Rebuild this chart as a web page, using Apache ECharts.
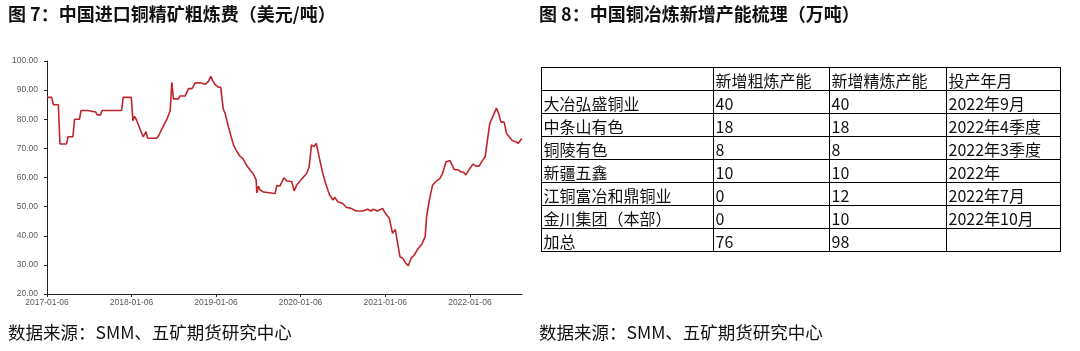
<!DOCTYPE html>
<html>
<head>
<meta charset="utf-8">
<script src="https://cdn.jsdelivr.net/npm/echarts@6/dist/echarts.min.js"></script>
<style>
html,body{margin:0;padding:0;background:#fff;}
#c{width:1080px;height:351px;}
</style>
</head>
<body>
<div id="c"></div>
<script>
// ---- Chart 7 data: China imported copper concentrate TC (USD/t) ----
const dates = [
 '2017-01-06','2017-01-26','2017-02-03','2017-02-24','2017-03-03','2017-03-31','2017-04-07','2017-04-28',
 '2017-05-05','2017-05-26','2017-06-02','2017-06-30','2017-07-07','2017-08-04','2017-08-11','2017-08-25',
 '2017-09-01','2017-11-24','2017-12-01','2018-01-05','2018-01-12','2018-01-19','2018-01-26','2018-02-02',
 '2018-02-25','2018-03-02','2018-03-10','2018-03-16','2018-04-26','2018-05-04','2018-05-11','2018-05-25',
 '2018-06-08','2018-06-22','2018-06-29','2018-07-06','2018-07-28','2018-08-03','2018-08-26','2018-09-09',
 '2018-09-24','2018-10-08','2018-10-29','2018-11-05','2018-11-20','2018-12-04','2018-12-14','2018-12-21',
 '2019-01-01','2019-01-16','2019-01-26','2019-02-06','2019-02-14','2019-02-28','2019-03-07','2019-03-22',
 '2019-04-02','2019-04-19','2019-05-02','2019-05-18','2019-06-02','2019-06-16','2019-06-28','2019-07-01',
 '2019-07-08','2019-07-15','2019-07-30','2019-08-06','2019-09-18','2019-09-25','2019-10-09','2019-10-26',
 '2019-11-07','2019-11-29','2019-12-09','2019-12-20','2020-01-10','2020-02-01','2020-02-12','2020-02-22',
 '2020-03-03','2020-03-14','2020-03-26','2020-04-09','2020-04-23','2020-05-10','2020-05-25','2020-06-01',
 '2020-06-15','2020-07-06','2020-07-21','2020-08-11','2020-09-02','2020-09-30','2020-10-21','2020-11-05',
 '2020-11-15','2020-12-03','2020-12-25','2021-01-06','2021-01-23','2021-02-06','2021-02-18','2021-02-28',
 '2021-03-10','2021-03-22','2021-04-05','2021-04-15','2021-04-27','2021-05-11','2021-05-25','2021-06-13',
 '2021-06-27','2021-07-03','2021-07-15','2021-07-29','2021-08-12','2021-08-30','2021-09-10','2021-09-25',
 '2021-10-12','2021-10-30','2021-11-18','2021-11-28','2021-12-08','2021-12-20','2022-01-03','2022-01-20',
 '2022-02-01','2022-02-15','2022-03-01','2022-03-13','2022-03-23','2022-04-02','2022-04-21','2022-05-01',
 '2022-05-12','2022-05-20','2022-06-03','2022-06-13','2022-06-24','2022-07-09','2022-07-23','2022-08-02',
 '2022-08-18'
];
const tc = [
 87.5,87.5,85,85,71.5,71.5,74,74,
 80,80,83,83,82.5,82.5,81.5,81.5,
 83,83,87.5,87.5,79.5,81,80,80,
 74,74,75.7,73.5,73.5,74.5,74.5,78,
 80,83,92.7,87,87,88,88,90.5,
 90.5,92.5,92.5,92,92,93,94.7,93.5,
 92,91,91,83.5,82,77.5,77,71.2,
 69.5,67.3,66.5,64.2,62.6,61.2,59.2,54.7,
 57,55.8,55,54.5,54.5,57.2,57.1,59.9,
 58.8,58.6,55.4,57.4,59.4,61.4,63.7,71.2,
 70.6,71.7,67.1,62,58,54,52.3,53.2,
 51.7,51.1,49.8,49.4,48.5,48.5,49.1,48.5,
 49.1,48.5,49.4,47.7,46,40.8,42.2,37.4,
 32.8,32.3,30.5,29.7,32.3,33.4,35.3,37.2,
 39.7,46.5,52.3,57.4,58.6,59.7,61.4,65.4,
 65.8,62.8,62.6,61.9,61.9,60.9,62.8,64.6,
 63.9,63.9,65.8,67.1,72.9,78.6,82,83.8,
 81.5,79,79,75.2,74,72.6,72.3,71.7,
 73.4
];
const xTickLabels = ['2017-01-06','2018-01-06','2019-01-06','2020-01-06','2021-01-06','2022-01-06'];
const xMin = '2017-01-06';
const xMax = '2022-08-19';

// ---- Chart 8 table data ----
const tableHeader = ['', '新增粗炼产能', '新增精炼产能', '投产年月'];
const companies = ['大冶弘盛铜业','中条山有色','铜陵有色','新疆五鑫','江铜富冶和鼎铜业','金川集团（本部）','加总'];
const crudeCap = ['40','18','8','10','0','0','76'];
const refinedCap = ['40','18','8','10','12','10','98'];
const startDates = ['2022年9月','2022年4季度','2022年3季度','2022年','2022年7月','2022年10月',''];

const title7 = '图 7：中国进口铜精矿粗炼费（美元/吨）';
const title8 = '图 8：中国铜冶炼新增产能梳理（万吨）';
const source = '数据来源：SMM、五矿期货研究中心';

// ---- build ----
const DAY = 86400000;
const toDay = s => { const p = s.split('-').map(Number); return Math.round(Date.UTC(p[0], p[1]-1, p[2]) / DAY); };
const pad = n => (n < 10 ? '0' : '') + n;
const fmtDay = v => { const d = new Date(Math.round(v) * DAY); return d.getUTCFullYear() + '-' + pad(d.getUTCMonth()+1) + '-' + pad(d.getUTCDate()); };
const seriesData = dates.map((d, i) => [toDay(d), tc[i]]);
const tickDays = xTickLabels.map(toDay);

const CJK = '"Noto Sans CJK SC", "Noto Sans", sans-serif';

// table layout
const colX = [541, 713, 829, 946, 1060];
const rowTop = 67, rowH = 23;
const rows = [tableHeader].concat(companies.map((c, i) => [c, crudeCap[i], refinedCap[i], startDates[i]]));
const graphics = [];
graphics.push({type:'text', left: 8, top: 5, style:{text: title7, font: 'bold 18px ' + CJK, fill:'#111'}});
graphics.push({type:'text', left: 539, top: 5, style:{text: title8, font: 'bold 18px ' + CJK, fill:'#111'}});
graphics.push({type:'text', left: 8, top: 324, style:{text: source, font: '17.5px ' + CJK, fill:'#111'}});
graphics.push({type:'text', left: 539, top: 324, style:{text: source, font: '17.5px ' + CJK, fill:'#111'}});
for (let r = 0; r <= rows.length; r++) {
  const y = rowTop + r * rowH + 0.5;
  graphics.push({type:'line', shape:{x1: colX[0], y1: y, x2: colX[colX.length-1] + 1, y2: y}, style:{stroke:'#000', lineWidth:1}});
}
for (let c = 0; c < colX.length; c++) {
  const x = colX[c] + 0.5;
  graphics.push({type:'line', shape:{x1: x, y1: rowTop, x2: x, y2: rowTop + rows.length * rowH + 1}, style:{stroke:'#000', lineWidth:1}});
}
rows.forEach((row, r) => {
  row.forEach((txt, c) => {
    if (!txt) return;
    graphics.push({type:'text', x: colX[c] + 2.5, y: rowTop + r * rowH + 14,
      style:{text: txt, font: '16px ' + CJK, fill:'#111', verticalAlign:'middle'}});
  });
});

const chart = echarts.init(document.getElementById('c'), null, {renderer:'canvas'});
chart.setOption({
  animation: false,
  backgroundColor: '#fff',
  grid: {left: 47, right: 558, top: 61, bottom: 57, containLabel: false},
  xAxis: {
    type: 'value',
    min: toDay(xMin), max: toDay(xMax),
    splitLine: {show: false},
    axisLine: {show: true, lineStyle: {color: '#222', width: 1}},
    axisTick: {show: true, customValues: tickDays, length: 3, lineStyle: {color: '#222'}},
    axisLabel: {customValues: tickDays, formatter: v => fmtDay(v), fontSize: 8.5, color: '#595959', margin: 4, fontFamily: 'Liberation Sans, sans-serif'}
  },
  yAxis: {
    type: 'value', min: 20, max: 100, interval: 10,
    splitLine: {show: false},
    axisLine: {show: true, lineStyle: {color: '#222', width: 1}},
    axisTick: {show: true, length: 3, lineStyle: {color: '#222'}},
    axisLabel: {formatter: v => v.toFixed(2), fontSize: 8.5, color: '#595959', margin: 9, fontFamily: 'Liberation Sans, sans-serif'}
  },
  series: [{
    type: 'line', data: seriesData, showSymbol: false, symbol: 'none',
    lineStyle: {color: '#BE262C', width: 1.6}
  }],
  graphic: graphics
});
</script>
</body>
</html>
